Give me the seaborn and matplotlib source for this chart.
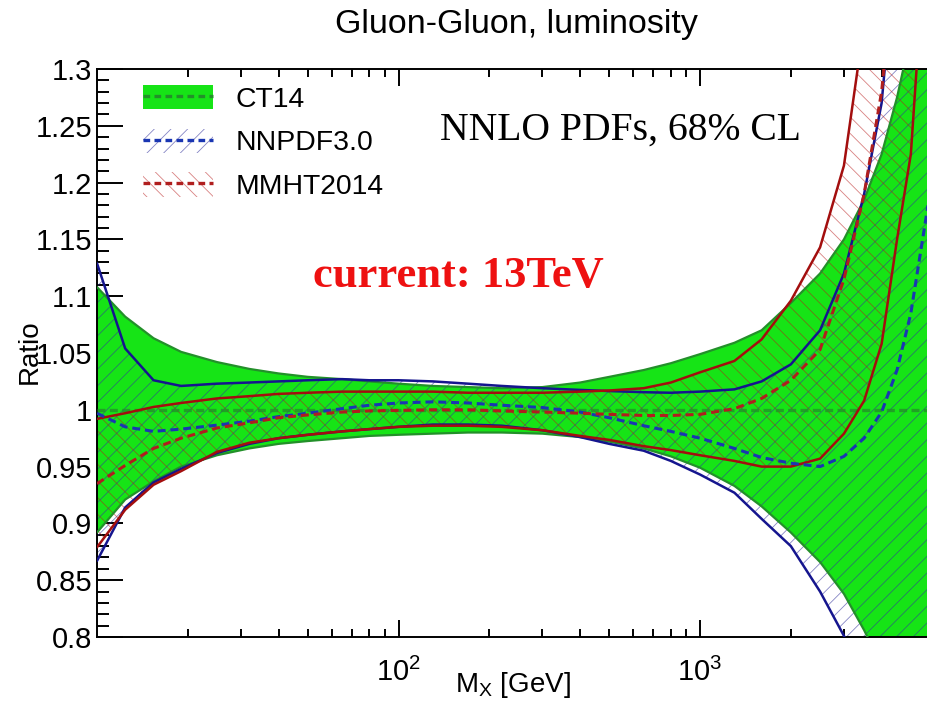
import numpy as np
import pandas as pd
import matplotlib
matplotlib.use("Agg")
import matplotlib.pyplot as plt
import seaborn as sns
from matplotlib.patches import Patch
from matplotlib.lines import Line2D
from matplotlib.legend_handler import HandlerTuple
from matplotlib.ticker import MultipleLocator, LogLocator, NullFormatter, FuncFormatter

# ---------------- data ----------------
mass_gev = [10, 12.4, 15.4, 19, 25, 32, 40, 50, 65, 80, 100, 130, 170, 220, 300,
            400, 500, 650, 800, 1000, 1300, 1600, 2000, 2500, 3000, 3500, 4000,
            4500, 5000, 5700]

ct14_central = 1.0
ct14_hi = [1.108, 1.082, 1.063, 1.051, 1.042, 1.036, 1.032, 1.029, 1.027, 1.025,
           1.023, 1.021, 1.020, 1.019, 1.020, 1.024, 1.029, 1.035, 1.041, 1.049,
           1.059, 1.070, 1.094, 1.120, 1.150, 1.185, 1.225, 1.275, 1.33, 1.42]
ct14_lo = [0.892, 0.921, 0.937, 0.950, 0.960, 0.966, 0.970, 0.9725, 0.975, 0.977,
           0.978, 0.979, 0.980, 0.980, 0.979, 0.976, 0.972, 0.966, 0.959, 0.949,
           0.933, 0.915, 0.892, 0.866, 0.838, 0.806, 0.775, 0.74, 0.70, 0.65]

nnpdf_mid = [0.997, 0.985, 0.981, 0.983, 0.9865, 0.990, 0.994, 0.997, 1.001, 1.004,
             1.006, 1.007, 1.006, 1.004, 1.002, 0.998, 0.993, 0.986, 0.981, 0.975,
             0.966, 0.958, 0.953, 0.950, 0.959, 0.975, 0.998, 1.035, 1.085, 1.18]
nnpdf_hi = [1.129, 1.054, 1.026, 1.021, 1.023, 1.024, 1.025, 1.026, 1.027, 1.026,
            1.026, 1.025, 1.023, 1.021, 1.019, 1.0175, 1.0165, 1.0155, 1.015, 1.016,
            1.018, 1.025, 1.040, 1.070, 1.120, 1.190, 1.27, 1.42, 1.55, 1.70]
nnpdf_lo = [0.867, 0.914, 0.936, 0.948, 0.962, 0.970, 0.975, 0.978, 0.981, 0.983,
            0.985, 0.987, 0.987, 0.986, 0.982, 0.976, 0.970, 0.964, 0.955, 0.943,
            0.927, 0.904, 0.880, 0.840, 0.801, 0.76, 0.72, 0.68, 0.64, 0.58]

mmht_mid = [0.935, 0.951, 0.966, 0.975, 0.984, 0.9885, 0.993, 0.9955, 0.998, 0.999,
            0.9995, 1.000, 1.000, 0.999, 0.998, 0.997, 0.996, 0.995, 0.995, 0.996,
            1.001, 1.010, 1.026, 1.053, 1.115, 1.19, 1.28, 1.42, 1.55, 1.70]
mmht_hi = [0.992, 0.997, 1.0025, 1.006, 1.010, 1.012, 1.014, 1.015, 1.016, 1.016,
           1.016, 1.016, 1.015, 1.015, 1.015, 1.016, 1.017, 1.019, 1.024, 1.033,
           1.043, 1.062, 1.096, 1.143, 1.215, 1.34, 1.48, 1.60, 1.70, 1.80]
mmht_lo = [0.879, 0.912, 0.934, 0.946, 0.963, 0.971, 0.975, 0.978, 0.981, 0.983,
           0.985, 0.986, 0.986, 0.985, 0.982, 0.977, 0.9735, 0.968, 0.9645, 0.960,
           0.955, 0.950, 0.950, 0.957, 0.979, 1.008, 1.058, 1.15, 1.225, 1.45]

series_labels = ["CT14", "NNPDF3.0", "MMHT2014"]
title_text = "Gluon-Gluon, luminosity"
note_text = "NNLO PDFs, 68% CL"
energy_text = "current: 13TeV"

# ---------------- style ----------------
sns.set_theme(style="ticks")
plt.rcParams['font.family'] = ['Liberation Sans', 'DejaVu Sans']
plt.rcParams.update({
    'mathtext.fontset': 'custom',
    'mathtext.rm': 'Liberation Sans',
    'mathtext.it': 'Liberation Sans:italic',
    'mathtext.bf': 'Liberation Sans:bold',
    'hatch.linewidth': 0.6,
    'axes.edgecolor': 'black',
    'axes.linewidth': 1.4,
    'xtick.color': 'black',
    'ytick.color': 'black',
    'text.color': 'black',
    'axes.labelcolor': 'black',
})

GREEN = "#16e416"
GREEN_EDGE = "#23902a"
BLUE = "#15158e"
RED = "#a30e0e"
BLUE_D = "#1a36b2"
RED_D = "#b01e1e"
BLUE_HATCH = (0.20, 0.20, 0.62, 0.6)
RED_HATCH = (0.72, 0.10, 0.10, 0.55)
DASH = (0, (2.6, 1.6))

fig = plt.figure(figsize=(9.28, 7.08), dpi=100)
ax = fig.add_axes([97 / 928, 71 / 708, 831 / 928, 568 / 708])
ax.set_xscale('log')

# bands
ax.fill_between(mass_gev, ct14_lo, ct14_hi, facecolor=GREEN, linewidth=0, zorder=1)
ax.fill_between(mass_gev, nnpdf_lo, nnpdf_hi, facecolor='none', edgecolor=BLUE_HATCH,
                hatch='//', linewidth=0, zorder=2)
ax.fill_between(mass_gev, mmht_lo, mmht_hi, facecolor='none', edgecolor=RED_HATCH,
                hatch='\\\\', linewidth=0, zorder=2)
ax.axhline(ct14_central, color=GREEN_EDGE, lw=2.4, ls=(0, (2.4, 1.3)), alpha=0.8, zorder=3)

# lines through seaborn
rows = []
for name, arr in [("ct14_hi", ct14_hi), ("ct14_lo", ct14_lo),
                  ("nnpdf_hi", nnpdf_hi), ("nnpdf_lo", nnpdf_lo), ("nnpdf_mid", nnpdf_mid),
                  ("mmht_hi", mmht_hi), ("mmht_lo", mmht_lo), ("mmht_mid", mmht_mid)]:
    for m, r in zip(mass_gev, arr):
        rows.append({"mass": m, "ratio": r, "curve": name})
df = pd.DataFrame(rows)

line_styles = {
    "ct14_hi": dict(color=GREEN_EDGE, lw=1.6, ls='-'),
    "ct14_lo": dict(color=GREEN_EDGE, lw=1.6, ls='-'),
    "nnpdf_hi": dict(color=BLUE, lw=1.8, ls='-'),
    "nnpdf_lo": dict(color=BLUE, lw=1.8, ls='-'),
    "mmht_hi": dict(color=RED, lw=1.8, ls='-'),
    "mmht_lo": dict(color=RED, lw=1.8, ls='-'),
    "nnpdf_mid": dict(color=BLUE_D, lw=2.2, ls=DASH),
    "mmht_mid": dict(color=RED_D, lw=2.2, ls=DASH),
}
for name, st in line_styles.items():
    sub = df[df["curve"] == name]
    sns.lineplot(data=sub, x="mass", y="ratio", ax=ax, estimator=None, sort=False,
                 color=st["color"], linewidth=st["lw"], linestyle=st["ls"],
                 legend=False, zorder=4)

# axes
ax.set_xlim(10, 5700)
ax.set_ylim(0.8, 1.3)
ax.spines['right'].set_visible(False)
ax.set_xticks([100, 1000])
ax.xaxis.set_minor_locator(LogLocator(base=10, subs=(2, 3, 4, 5, 6, 7, 8, 9)))
ax.xaxis.set_minor_formatter(NullFormatter())
ax.yaxis.set_major_locator(MultipleLocator(0.05))
ax.yaxis.set_minor_locator(MultipleLocator(0.01))
ax.yaxis.set_major_formatter(FuncFormatter(lambda v, p: f"{v:.2f}".rstrip('0').rstrip('.')))

ax.tick_params(axis='y', which='major', direction='in', length=18.5, width=1.4,
               labelsize=21, pad=3.5, left=True, right=False)
ax.tick_params(axis='y', which='minor', direction='in', length=8.6, width=1.4,
               left=True, right=False)
ax.tick_params(axis='x', which='major', direction='in', length=12, width=1.4,
               labelsize=21, pad=15, top=True, bottom=True)
ax.tick_params(axis='x', which='minor', direction='in', length=6, width=1.4,
               top=True, bottom=True)

ax.set_xlabel(r"M$_\mathrm{X}$ [GeV]", fontsize=20)
ax.xaxis.set_label_coords(0.5, -0.058)
ax.set_ylabel("Ratio", fontsize=20)
ax.yaxis.set_label_coords(-0.065, 0.502)

# legend
h_ct = (Patch(facecolor=GREEN, edgecolor='none'),
        Line2D([], [], color=GREEN_EDGE, lw=2.4, ls=(0, (2.0, 1.3))))
h_nn = (Patch(facecolor='white', edgecolor=BLUE_HATCH, hatch='//', lw=0),
        Line2D([], [], color=BLUE_D, lw=2.4, ls=(0, (2.0, 1.3))))
h_mm = (Patch(facecolor='white', edgecolor=RED_HATCH, hatch='\\\\', lw=0),
        Line2D([], [], color=RED_D, lw=2.4, ls=(0, (2.0, 1.3))))
ax.legend([h_ct, h_nn, h_mm], series_labels,
          handler_map={tuple: HandlerTuple(ndivide=1, pad=0)},
          loc='upper left', bbox_to_anchor=(143 / 928, 1 - 85 / 708),
          bbox_transform=fig.transFigure, frameon=False, fontsize=20.4,
          handlelength=2.47, handleheight=0.95, handletextpad=0.8,
          labelspacing=0.55, borderpad=0, borderaxespad=0)

# texts
fig.text(516 / 928, 1 - 33 / 708, title_text, ha='center', va='baseline', fontsize=24.5)
fig.text(440 / 928, 1 - 140 / 708, note_text, ha='left', va='baseline',
         fontsize=28.5, family=['Liberation Serif', 'DejaVu Serif'])
fig.text(313 / 928, 1 - 287 / 708, energy_text, ha='left', va='baseline',
         fontsize=32, weight='bold', color='#ee1111',
         family=['Liberation Serif', 'DejaVu Serif'])

fig.savefig("out.png", dpi=100)
